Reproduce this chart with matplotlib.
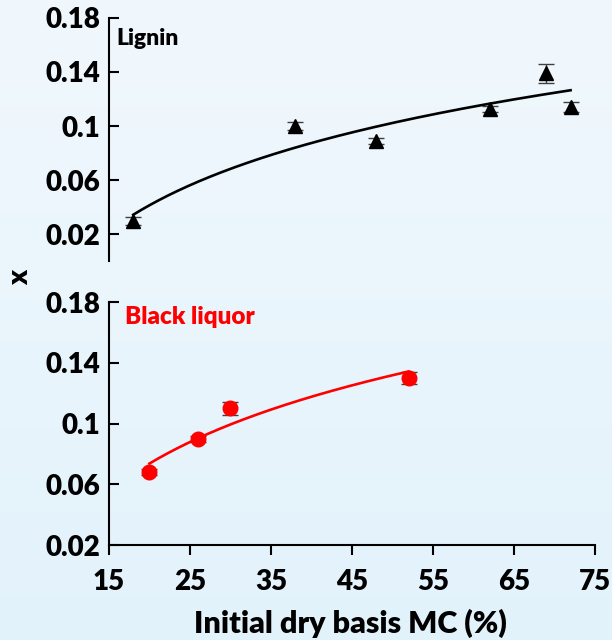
"""Moisture-content dependence of x for lignin and black liquor."""

import numpy as np
import matplotlib.pyplot as plt

plt.rcParams["font.family"] = ["Lato", "DejaVu Sans"]
plt.rcParams["font.weight"] = "heavy"

# lignin
lignin_mc = [18, 38, 48, 62, 69, 72]
lignin_x = [0.030, 0.100, 0.089, 0.1125, 0.139, 0.114]
lignin_err = [0.003, 0.003, 0.002, 0.002, 0.007, 0.004]

# black liquor
liquor_mc = [20, 26, 30, 52]
liquor_x = [0.068, 0.090, 0.110, 0.130]
liquor_err = [0.002, 0.002, 0.004, 0.004]

x_ticks = [15, 25, 35, 45, 55, 65, 75]
y_ticks = [0.02, 0.06, 0.1, 0.14, 0.18]
y_ticklabels = ["0.02", "0.06", "0.1", "0.14", "0.18"]


def log_fit(mc, val):
    """Least-squares y = a*ln(x) + b through the points."""
    a, b = np.polyfit(np.log(mc), val, 1)
    xs = np.linspace(min(mc), max(mc), 200)
    return xs, a * np.log(xs) + b


fig = plt.figure(figsize=(6.12, 6.4), dpi=100)

# soft blue backdrop
bg = fig.add_axes([0, 0, 1, 1], zorder=-10)
grad = np.linspace(0, 1, 256).reshape(-1, 1)
c_top = np.array([241, 248, 253]) / 255
c_bot = np.array([226, 242, 251]) / 255
img = c_top + grad[..., None] * (c_bot - c_top)
bg.imshow(img, aspect="auto", extent=[0, 1, 0, 1])
bg.axis("off")

ax1 = fig.add_axes([0.178, 0.592, 0.794, 0.380])
ax2 = fig.add_axes([0.178, 0.148, 0.794, 0.380])

for ax in (ax1, ax2):
    ax.patch.set_alpha(0)
    for s in ("top", "right"):
        ax.spines[s].set_visible(False)
    ax.spines["left"].set_linewidth(1.5)
    ax.set_xlim(15, 75)
    ax.set_yticks(y_ticks)
    ax.set_yticklabels(y_ticklabels)
    ax.tick_params(axis="y", direction="in", length=7, width=1.5,
                   labelsize=20, pad=6)

ax1.set_ylim(0, 0.18)
ax1.spines["bottom"].set_visible(False)
ax1.tick_params(axis="x", bottom=False, labelbottom=False)

ax2.set_ylim(0.02, 0.18)
ax2.spines["bottom"].set_linewidth(1.5)
ax2.set_xticks(x_ticks)
ax2.tick_params(axis="x", direction="out", length=7, width=1.5,
                labelsize=20, pad=10)

# lignin panel
ax1.errorbar(lignin_mc, lignin_x, yerr=lignin_err, fmt="none",
             ecolor="#404040", elinewidth=1, capsize=5.5, capthick=1,
             zorder=2)
ax1.plot(lignin_mc, lignin_x, "^", color="black", markersize=10,
         linestyle="none", zorder=3)
fx, fy = log_fit(lignin_mc, lignin_x)
ax1.plot(fx, fy, color="black", lw=1.9, zorder=4)
ax1.text(0.015, 0.96, "Lignin", transform=ax1.transAxes, fontsize=16.5,
         va="top", ha="left")

# black liquor panel
ax2.errorbar(liquor_mc, liquor_x, yerr=liquor_err, fmt="none",
             ecolor="#404040", elinewidth=1, capsize=5.5, capthick=1,
             zorder=2)
ax2.plot(liquor_mc, liquor_x, "o", color="#FF0000", markersize=10.5,
         linestyle="none", zorder=3)
fx, fy = log_fit(liquor_mc, liquor_x)
ax2.plot(fx, fy, color="#FF0000", lw=1.9, zorder=4)
ax2.text(0.033, 0.985, "Black liquor", transform=ax2.transAxes,
         fontsize=17.5, color="#FF0000", va="top", ha="left")

fig.text(20 / 612, 1 - 277 / 640, "x", rotation=90, fontsize=20,
         ha="center", va="center")
fig.text(350 / 612, 7 / 640, "Initial dry basis MC (%)", fontsize=22,
         ha="center", va="baseline")

fig.savefig("out.png", dpi=100)
